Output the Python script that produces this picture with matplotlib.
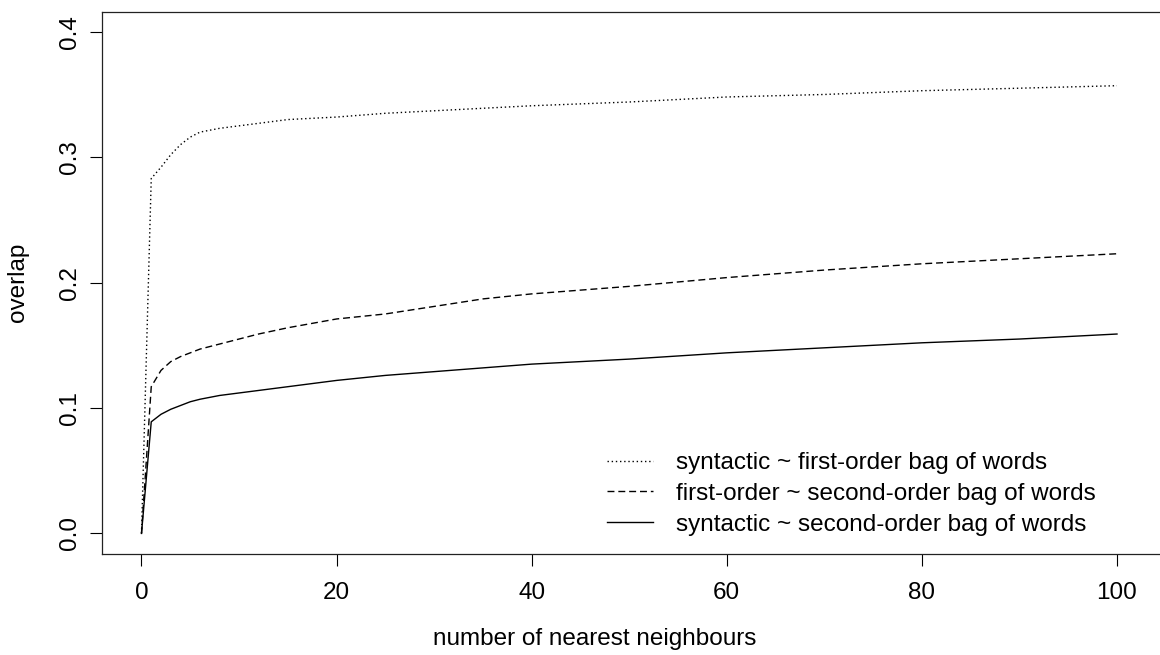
import numpy as np
import matplotlib.pyplot as plt

plt.rcParams['font.family'] = ['Liberation Sans', 'DejaVu Sans']

# number of nearest neighbours (x positions of the read-off points)
neighbours = [0, 1, 2, 3, 4, 5, 6, 8, 10, 12, 15, 20, 25, 30, 35, 40, 50, 60, 70, 80, 90, 100]

# overlap values
syn_first = [0.0, 0.283, 0.292, 0.302, 0.310, 0.316, 0.320, 0.323, 0.325, 0.327, 0.330,
             0.332, 0.335, 0.337, 0.339, 0.341, 0.344, 0.348, 0.350, 0.353, 0.355, 0.357]
first_second = [0.0, 0.117, 0.130, 0.137, 0.141, 0.144, 0.147, 0.151, 0.155, 0.159, 0.164,
                0.171, 0.175, 0.181, 0.187, 0.191, 0.197, 0.204, 0.210, 0.215, 0.219, 0.223]
syn_second = [0.0, 0.089, 0.095, 0.099, 0.102, 0.105, 0.107, 0.110, 0.112, 0.114, 0.117,
              0.122, 0.126, 0.129, 0.132, 0.135, 0.139, 0.144, 0.148, 0.152, 0.155, 0.159]

labels = ['syntactic ~ first-order bag of words',
          'first-order ~ second-order bag of words',
          'syntactic ~ second-order bag of words']

x_ticks = [0, 20, 40, 60, 80, 100]
y_ticks = [0.0, 0.1, 0.2, 0.3, 0.4]

W, H = 1160, 655
fig = plt.figure(figsize=(W / 100, H / 100), dpi=100)
# the right edge of the box falls just outside the picture, as in the original
ax = fig.add_axes([101.5 / W, (H - 553.5) / H, 1066 / W, (553.5 - 11.7) / H])

fs = 17.5
lw = 1.0
ax.plot(neighbours, syn_first, color='black', lw=lw, linestyle=(0, (1, 2)), label=labels[0])
ax.plot(neighbours, first_second, color='black', lw=lw, linestyle=(0, (5, 2.8)), label=labels[1])
ax.plot(neighbours, syn_second, color='black', lw=lw, linestyle='-', label=labels[2])

ax.set_xlim(-4.1, -4.1 + 1066 / 9.755)
ax.set_ylim(-0.016, 0.416)
ax.set_xticks(x_ticks)
ax.set_xticklabels([str(v) for v in x_ticks])
ax.set_yticks(y_ticks)
ax.set_yticklabels(['%.1f' % v for v in y_ticks], rotation=90, va='center')

ax.tick_params(axis='both', direction='out', length=8.6, width=0.8, color='black',
               labelsize=fs)
ax.tick_params(axis='x', pad=12)
ax.tick_params(axis='y', pad=6)
for s in ax.spines.values():
    s.set_linewidth(0.9)
    s.set_color('#222222')

ax.set_xlabel('number of nearest neighbours', fontsize=fs, va='center')
ax.xaxis.set_label_coords((595 - 101.5) / 1066, (553.5 - 639) / 541.8)
ax.set_ylabel('overlap', fontsize=fs, va='center')
ax.yaxis.set_label_coords((18 - 101.5) / 1066, 0.5)

ax.legend(loc='upper left', bbox_to_anchor=(607 / W, 1 - 452 / H),
          bbox_transform=fig.transFigure, frameon=False, fontsize=fs,
          handlelength=1.9, handletextpad=0.95, labelspacing=0.36,
          borderpad=0, borderaxespad=0)

fig.savefig('out.png', dpi=100)
